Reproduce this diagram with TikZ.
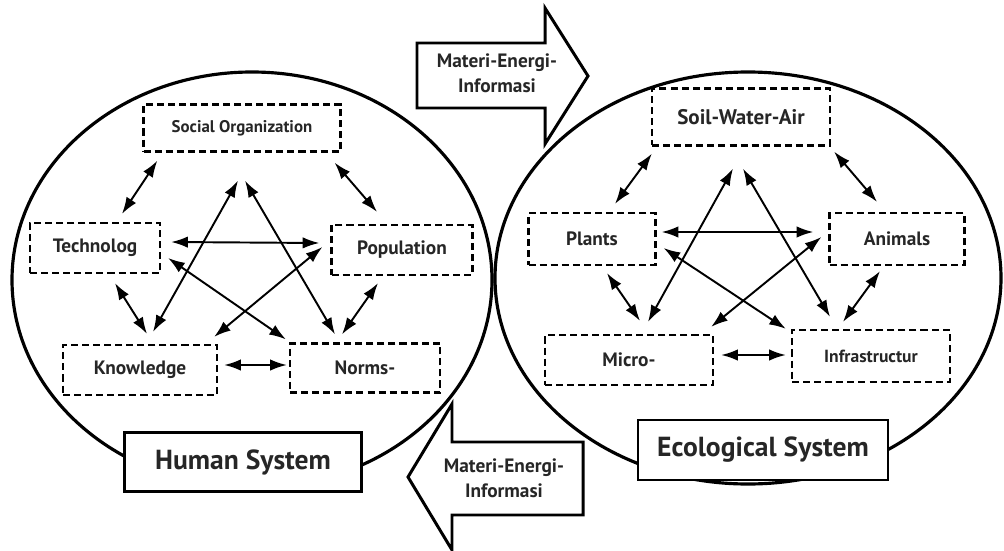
\documentclass[tikz,border=0pt]{standalone}
\usepackage{fontspec}
\setmainfont{PT Sans}
\usetikzlibrary{arrows.meta}

\begin{document}
\begin{tikzpicture}[x=0.02cm, y=-0.02cm, >={Latex[length=9.5pt,width=6.5pt]},
  every node/.style={font=\bfseries\fontsize{11}{13}\selectfont, text=black!85},
  part/.style={draw, line width=1.3pt, dash pattern=on 4pt off 2.3pt, inner sep=0pt},
  link/.style={<->, line width=1.1pt},
  sysbox/.style={draw, fill=white, line width=1.3pt, inner sep=0pt, font=\bfseries\fontsize{15.7}{19}\selectfont},
  flow/.style={draw, fill=white, line width=1.7pt, line join=miter}]
\useasboundingbox (0,0) rectangle (1004,551);

% the two systems
\draw[line width=1.8pt] (252,280) ellipse [x radius=240, y radius=208];
\draw[line width=1.8pt] (748,278) ellipse [x radius=253, y radius=206];

% exchange between them
\draw[flow] (417,43) -- (545,43) -- (545,8) -- (588,76) -- (545,144) -- (545,108) -- (417,108) -- cycle;
\node[align=center, font=\bfseries\fontsize{11}{14}\selectfont] (flowtop) at (497,73) {Materi-Energi-\\Informasi};
\draw[flow] (583,442) -- (452,442) -- (452,404) -- (408,477) -- (452,550) -- (452,515) -- (583,515) -- cycle;
\node[align=center, font=\bfseries\fontsize{11}{14}\selectfont] (flowbot) at (504,478) {Materi-Energi-\\Informasi};

\node[sysbox, minimum width=4.74cm, minimum height=1.18cm] (human) at (243,462) {Human System};
\node[sysbox, minimum width=5cm, minimum height=1.2cm] (eco) at (763,450) {Ecological System};

% human system
\node[part, minimum width=3.94cm, minimum height=0.94cm, font=\bfseries\fontsize{9.6}{11}\selectfont] (soc) at (242,128) {Social Organization};
\node[part, minimum width=2.6cm, minimum height=1cm] (tech) at (95,248) {Technolog};
\node[part, minimum width=2.82cm, minimum height=1cm] (pop) at (402,250) {Population};
\node[part, minimum width=3.08cm, minimum height=1cm] (know) at (140,370) {Knowledge};
\node[part, minimum width=3cm, minimum height=0.98cm] (norm) at (365,368) {Norms-};

\draw[link] ([shift={(15,8)}]soc.south west) -- ([shift={(27,-8)}]tech.north);
\draw[link] ([shift={(-7,10)}]soc.south east) -- ([shift={(-25,-12)}]pop.north);
\draw[link] ([shift={(10,-6)}]tech.east) -- ([shift={(-11,-7)}]pop.west);
\draw[link] ([shift={(20,9)}]tech.south) -- ([shift={(7,-10)}]know.north);
\draw[link] ([shift={(-24,7)}]pop.south) -- ([shift={(-23,-8)}]norm.north);
\draw[link] ([shift={(6,-5)}]know.east) -- ([shift={(-2,-3)}]norm.west);
\draw[link] ([shift={(13,-12)}]know.north) -- ([shift={(-4,28)}]soc.south);
\draw[link] ([shift={(-30,-8)}]norm.north) -- ([shift={(3,28)}]soc.south);
\draw[link] ([shift={(7,10)}]tech.east) -- ([shift={(-3,-3)}]norm.north west);
\draw[link] ([shift={(-8,-3)}]pop.west) -- ([shift={(-4,-7)}]know.north east);

% ecological system
\node[part, minimum width=3.56cm, minimum height=1.14cm, font=\bfseries\fontsize{12}{14}\selectfont] (soil) at (741,117) {Soil-Water-Air};
\node[part, minimum width=2.54cm, minimum height=1.04cm] (plant) at (592,239) {Plants};
\node[part, minimum width=2.7cm, minimum height=1.04cm] (anim) at (897,239) {Animals};
\node[part, minimum width=3.36cm, minimum height=1cm] (micro) at (629,360) {Micro-};
\node[part, minimum width=3.16cm, minimum height=1.04cm, font=\bfseries\fontsize{10}{12}\selectfont] (infra) at (871,356) {Infrastructur};

\draw[link] ([shift={(1,7)}]soil.south west) -- ([shift={(23,-8)}]plant.north);
\draw[link] ([shift={(3,5)}]soil.south east) -- ([shift={(-20,-10)}]anim.north);
\draw[link] ([shift={(5,-7)}]plant.east) -- ([shift={(-15,-7)}]anim.west);
\draw[link] ([shift={(15,7)}]plant.south) -- ([shift={(11,-13)}]micro.north);
\draw[link] ([shift={(-17,5)}]anim.south) -- ([shift={(-28,-7)}]infra.north);
\draw[link] ([shift={(7,-5)}]micro.east) -- ([shift={(-5,-1)}]infra.west);
\draw[link] ([shift={(19,-12)}]micro.north) -- ([shift={(-8,22)}]soil.south);
\draw[link] ([shift={(-41,-12)}]infra.north) -- ([shift={(2,22)}]soil.south);
\draw[link] ([shift={(7,9)}]plant.east) -- ([shift={(-5,0)}]infra.north west);
\draw[link] ([shift={(-7,-2)}]anim.west) -- ([shift={(-3,-7)}]micro.north east);
\end{tikzpicture}
\end{document}
